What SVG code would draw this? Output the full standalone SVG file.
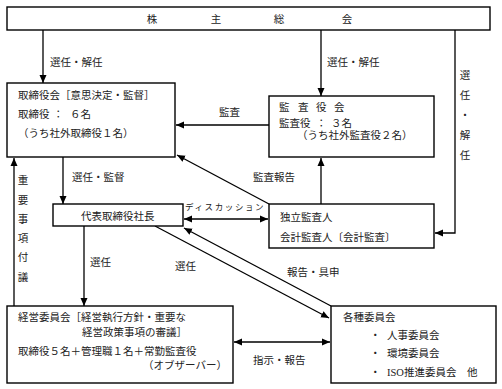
<svg xmlns="http://www.w3.org/2000/svg" width="502" height="389" viewBox="0 0 502 389">
<defs>
<marker id="ah" viewBox="0 0 8 8" refX="8" refY="4" markerWidth="8" markerHeight="8" markerUnits="userSpaceOnUse" orient="auto-start-reverse">
<path d="M0,0.5 L8,4 L0,7.5 Z" fill="#000"/>
</marker>
<style>
.box{fill:#fff;stroke:#000;stroke-width:1.4}
.ln{fill:none;stroke:#000;stroke-width:1.3}
text{font-family:"Liberation Serif","Noto Sans CJK JP",serif;font-size:10.5px;fill:#222}
.sm{font-size:8.5px;letter-spacing:1.6px}
.vc{text-anchor:middle}
</style>
</defs>
<rect width="502" height="389" fill="#fff"/>

<g id="connectors">
<path class="ln" d="M43,30 V83" marker-end="url(#ah)"/>
<path class="ln" d="M321,30 V96" marker-end="url(#ah)"/>
<path class="ln" d="M455,30 V233 H435" marker-end="url(#ah)"/>
<path class="ln" d="M269,125 H176" marker-end="url(#ah)"/>
<path class="ln" d="M321,204 V158" marker-end="url(#ah)"/>
<path class="ln" d="M269,204 L177,155" marker-end="url(#ah)"/>
<path class="ln" d="M63,157 V204" marker-end="url(#ah)"/>
<path class="ln" d="M184,219 H268" marker-start="url(#ah)" marker-end="url(#ah)"/>
<path class="ln" d="M84,226 V306" marker-end="url(#ah)"/>
<path class="ln" d="M14,306 V158" marker-end="url(#ah)"/>
<path class="ln" d="M234,342 H330" marker-start="url(#ah)" marker-end="url(#ah)"/>
<path class="ln" d="M155,226 L329,318" marker-end="url(#ah)"/>
<path class="ln" d="M331,306 L184,228" marker-end="url(#ah)"/>
<text x="50" y="66">選任・解任</text>
<text x="327" y="66">選任・解任</text>
<text x="219" y="116">監査</text>
<text x="253" y="181">監査報告</text>
<text x="72" y="181">選任・監督</text>
<text class="sm" x="185" y="210">ディスカッション</text>
<text x="90" y="266">選任</text>
<text x="175" y="270">選任</text>
<text x="287" y="276">報告・具申</text>
<text x="253" y="364">指示・報告</text>
<text class="vc" x="23" y="184">重</text>
<text class="vc" x="23" y="204">要</text>
<text class="vc" x="23" y="223">事</text>
<text class="vc" x="23" y="242">項</text>
<text class="vc" x="23" y="261">付</text>
<text class="vc" x="23" y="281">議</text>
<text class="vc" x="465" y="79">選</text>
<text class="vc" x="465" y="99">任</text>
<text class="vc" x="465" y="119">・</text>
<text class="vc" x="465" y="139">解</text>
<text class="vc" x="465" y="159">任</text>
</g>

<g id="shareholders">
<rect class="box" x="7" y="7" width="483" height="23"/>
<text class="vc" x="152" y="23">株</text>
<text class="vc" x="216" y="23">主</text>
<text class="vc" x="279" y="23">総</text>
<text class="vc" x="347" y="23">会</text>
</g>

<g id="board">
<rect class="box" x="7" y="83" width="168" height="74"/>
<text x="18" y="99">取締役会［意思決定・監督］</text>
<text x="18" y="118">取締役</text>
<text x="53" y="118">：</text>
<text x="70" y="118">６名</text>
<text x="18" y="137">（うち社外取締役１名）</text>
</g>

<g id="audit-board">
<rect class="box" x="269" y="96" width="165" height="61"/>
<text x="279" y="111">監</text>
<text x="298" y="111">査</text>
<text x="316" y="111">役</text>
<text x="334" y="111">会</text>
<text x="279" y="127">監査役</text>
<text x="316" y="127">：</text>
<text x="331" y="127">３名</text>
<text x="297" y="139">（うち社外監査役２名）</text>
</g>

<g id="president">
<rect class="box" x="53" y="204" width="130" height="22"/>
<text x="81" y="220">代表取締役社長</text>
</g>

<g id="auditor">
<rect class="box" x="269" y="204" width="165" height="44"/>
<text x="280" y="221">独立監査人</text>
<text x="280" y="241">会計監査人〔会計監査〕</text>
</g>

<g id="management-committee">
<rect class="box" x="7" y="306" width="226" height="77"/>
<text x="18" y="321">経営委員会［経営執行方針・重要な</text>
<text x="82" y="336">経営政策事項の審議］</text>
<text x="18" y="355">取締役５名＋管理職１名＋常勤監査役</text>
<text x="143" y="369">（オブザーバー）</text>
</g>

<g id="committees">
<rect class="box" x="331" y="306" width="165" height="77"/>
<text x="343" y="321">各種委員会</text>
<text x="370" y="339">・</text>
<text x="387" y="339">人事委員会</text>
<text x="370" y="357">・</text>
<text x="387" y="357">環境委員会</text>
<text x="370" y="376">・</text>
<text x="387" y="376">ISO推進委員会　他</text>
</g>
</svg>
